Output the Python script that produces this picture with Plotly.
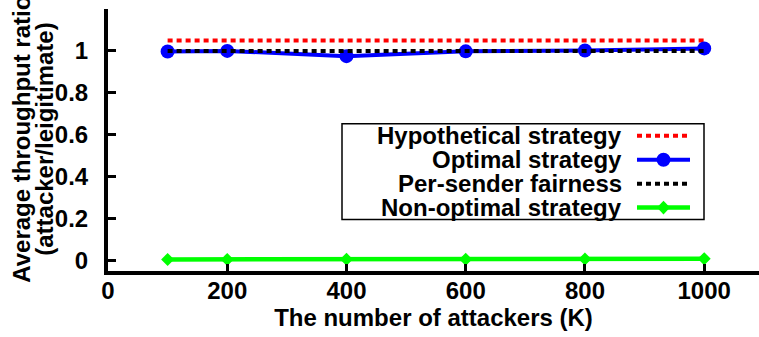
import plotly.graph_objects as go

# ---- data ----
attackers = [100, 200, 400, 600, 800, 1000]
hypothetical = [1.05, 1.05, 1.05, 1.05, 1.05, 1.05]
optimal = [0.997, 1.0, 0.975, 0.998, 1.002, 1.012]
per_sender = [1.0, 1.0, 1.0, 1.0, 1.0, 1.0]
non_optimal = [0.005, 0.005, 0.006, 0.006, 0.007, 0.009]

series_names = ["Hypothetical strategy", "Optimal strategy",
                "Per-sender fairness", "Non-optimal strategy"]
x_ticks = [0, 200, 400, 600, 800, 1000]
y_ticks = [0, 0.2, 0.4, 0.6, 0.8, 1]
x_title = "The number of attackers (K)"
y_title_lines = ["Average throughput ratio", "(attacker/leigitimate)"]

# ---- layout geometry (pixels) ----
W, H = 759, 337
L, R, T, B = 108, 759, 9, 271.5

FONT = "Liberation Sans"
FS = 24


def fx(px):
    return (px - L) / (R - L)


def fy(py):
    return (B - py) / (B - T)


fig = go.Figure()
fig.add_trace(go.Scatter(x=attackers, y=hypothetical, mode="lines",
                         line=dict(color="#ff0000", width=4, dash="5px,4px"),
                         name=series_names[0]))
fig.add_trace(go.Scatter(x=attackers, y=optimal, mode="lines+markers",
                         line=dict(color="#0000ff", width=4),
                         marker=dict(symbol="circle", size=14, color="#0000ff"),
                         name=series_names[1]))
fig.add_trace(go.Scatter(x=attackers, y=per_sender, mode="lines",
                         line=dict(color="#000000", width=4, dash="5px,4px"),
                         name=series_names[2]))
fig.add_trace(go.Scatter(x=attackers, y=non_optimal, mode="lines+markers",
                         line=dict(color="#00ff00", width=4.5),
                         marker=dict(symbol="diamond", size=10, color="#00ff00"),
                         name=series_names[3]))

# ---- custom legend (text right, sample on the right) ----
shapes = []
annotations = []
box = dict(x0=342, x1=704, y0=124, y1=220)
shapes.append(dict(type="rect", xref="paper", yref="paper",
                   x0=fx(box["x0"]), x1=fx(box["x1"]),
                   y0=fy(box["y1"]), y1=fy(box["y0"]),
                   line=dict(color="black", width=1.5), fillcolor="white",
                   layer="above"))
rows = [136, 160, 184, 208]
styles = [
    dict(color="#ff0000", width=4, dash="5px,4px", marker=None),
    dict(color="#0000ff", width=4, dash="solid", marker="circle"),
    dict(color="#000000", width=4, dash="5px,4px", marker=None),
    dict(color="#00ff00", width=4.5, dash="solid", marker="diamond"),
]
sx0, sx1 = 637, 690
for name, ry, st in zip(series_names, rows, styles):
    annotations.append(dict(xref="paper", yref="paper", x=fx(623), y=fy(ry),
                            xanchor="right", yanchor="middle", showarrow=False,
                            text=name, borderpad=0,
                            font=dict(family=FONT, size=FS, color="black",
                                      weight="bold")))
    shapes.append(dict(type="line", xref="paper", yref="paper",
                       x0=fx(sx0), x1=fx(sx1), y0=fy(ry), y1=fy(ry),
                       line=dict(color=st["color"], width=st["width"],
                                 dash=st["dash"]), layer="above"))
    cx = (sx0 + sx1) / 2
    if st["marker"] == "circle":
        r = 7
        shapes.append(dict(type="circle", xref="paper", yref="paper",
                           x0=fx(cx - r), x1=fx(cx + r),
                           y0=fy(ry + r), y1=fy(ry - r),
                           fillcolor=st["color"], line=dict(width=0),
                           layer="above"))
    elif st["marker"] == "diamond":
        hw, hh = 6.5, 7
        pts = [(cx - hw, ry), (cx, ry - hh), (cx + hw, ry), (cx, ry + hh)]
        path = "M " + " L ".join(f"{fx(a):.5f},{fy(b):.5f}" for a, b in pts) + " Z"
        shapes.append(dict(type="path", xref="paper", yref="paper", path=path,
                           fillcolor=st["color"], line=dict(width=0),
                           layer="above"))

# ---- y-axis title as two rotated lines (tight line spacing as in reference) ----
for line_text, cxp in zip(y_title_lines, [22, 45]):
    annotations.append(dict(xref="paper", yref="paper", x=fx(cxp), y=fy(140),
                            xanchor="center", yanchor="middle", showarrow=False,
                            textangle=-90, text=line_text, borderpad=0,
                            font=dict(family=FONT, size=FS, color="black",
                                      weight="bold")))

fig.update_layout(
    width=W, height=H,
    margin=dict(l=L, r=W - R, t=T, b=H - B, pad=0),
    paper_bgcolor="white", plot_bgcolor="white",
    showlegend=False,
    font=dict(family=FONT, size=FS, color="black", weight="bold"),
    shapes=shapes, annotations=annotations,
    xaxis=dict(range=[0, (R - L) / 0.5962], tickvals=x_ticks,
               ticktext=[str(v) for v in x_ticks],
               showgrid=False, zeroline=False,
               showline=True, linecolor="black", linewidth=4,
               ticks="inside", ticklen=7, tickwidth=3, tickcolor="black",
               ticklabelstandoff=-5,
               tickfont=dict(family=FONT, size=FS, weight="bold"),
               title=dict(text=x_title, standoff=2,
                          font=dict(family=FONT, size=FS, weight="bold"))),
    yaxis=dict(range=[-0.05, 1.2], tickvals=y_ticks,
               ticktext=["0", "0.2", "0.4", "0.6", "0.8", "1"],
               showgrid=False, zeroline=False,
               showline=True, linecolor="black", linewidth=4,
               ticks="inside", ticklen=8, tickwidth=3, tickcolor="black",
               ticklabelstandoff=11,
               tickfont=dict(family=FONT, size=FS, weight="bold")),
)

fig.write_html("out.html")
